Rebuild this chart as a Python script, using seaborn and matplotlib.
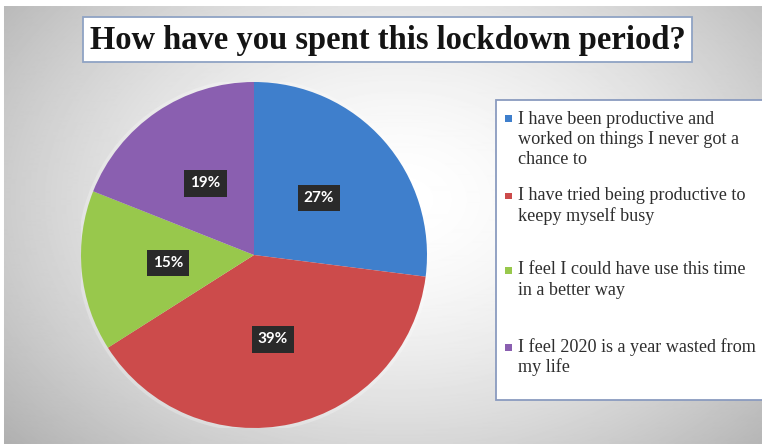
import numpy as np
import matplotlib
matplotlib.use("Agg")
import matplotlib.pyplot as plt
from matplotlib.patches import Rectangle, Circle
import seaborn as sns

# ---- data -------------------------------------------------------------
title = "How have you spent this lockdown period?"
responses = [
    "I have been productive and\nworked on things I never got a\nchance to",
    "I have tried being productive to\nkeepy myself busy",
    "I feel I could have use this time\nin a better way",
    "I feel 2020 is a year wasted from\nmy life",
]
shares = [27, 39, 15, 19]
slice_colors = ["#3f7fcc", "#cc4b4b", "#98c84c", "#8a5fb0"]

# ---- figure setup -----------------------------------------------------
W, H = 762, 444
sns.set_theme(style="white")
plt.rcParams["font.family"] = ["Liberation Serif", "DejaVu Serif"]
palette = sns.color_palette(slice_colors)

fig = plt.figure(figsize=(W / 100, H / 100), dpi=100)


def fx(px):
    return px / W


def fy(py):
    return 1 - py / H


# soft radial backdrop
bg = fig.add_axes([0, 0, 1, 1], zorder=-10)
yy, xx = np.mgrid[0:H, 0:W]
dist = np.sqrt(((xx - 400) / 420) ** 2 + ((yy - 200) / 300) ** 2)
shade = 1 - 0.22 * np.clip(dist, 0, 1.3) ** 1.6
shade[:7, :] = 1
shade[:, :4] = 1
bg.imshow(shade, cmap="gray", vmin=0, vmax=1, extent=(0, W, H, 0),
          aspect="auto", interpolation="bilinear")
bg.set_axis_off()

# ---- pie ----------------------------------------------------------------
cx, cy, r = 254, 255, 173
ax = fig.add_axes([fx(cx - r), fy(cy + r), 2 * r / W, 2 * r / H])
ax.add_patch(Circle((0, 0), 1.0, fc="none", ec="white", lw=5, alpha=0.25, zorder=0))
wedges, _, pct_texts = ax.pie(
    shares,
    colors=palette,
    startangle=90,
    counterclock=False,
    autopct=lambda p: f"{p:.0f}%",
    pctdistance=0.5,
    wedgeprops=dict(linewidth=0),
)
for t in pct_texts:
    t.set_color("white")
    t.set_fontfamily(["Lato", "DejaVu Sans"])
    t.set_fontweight("bold")
    t.set_fontsize(11)
    t.set_bbox(dict(boxstyle="square,pad=0.4", fc="#2a2a2a", ec="none"))
ax.set_xlim(-1, 1)
ax.set_ylim(-1, 1)
ax.set_aspect("equal")
ax.set_axis_off()

# ---- title --------------------------------------------------------------
fig.patches.append(Rectangle((fx(83), fy(62)), (692 - 83) / W, (62 - 17) / H,
                             transform=fig.transFigure, fc="white",
                             ec="#8fa3c4", lw=1.3, zorder=1))
fig.text(fx(387.5), fy(40), title, ha="center", va="center", fontsize=23.5,
         fontweight="bold", color="#141414", zorder=2)

# ---- legend -------------------------------------------------------------
fig.patches.append(Rectangle((fx(496), fy(400)), (770 - 496) / W, (400 - 100) / H,
                             transform=fig.transFigure, fc="white",
                             ec="#8a9bbf", lw=1.3, zorder=1))
entry_tops = [119, 196, 270, 347]
line_gap = 20.5
for label, color, top in zip(responses, palette, entry_tops):
    fig.patches.append(Rectangle((fx(505), fy(top + 3.5)), 7 / W, 7 / H,
                                 transform=fig.transFigure, fc=color,
                                 ec="none", zorder=2))
    for i, line in enumerate(label.split("\n")):
        fig.text(fx(518), fy(top + i * line_gap), line, ha="left", va="center",
                 fontsize=13.1, color="#2e2e2e", zorder=2)

fig.savefig("out.png", dpi=100)
